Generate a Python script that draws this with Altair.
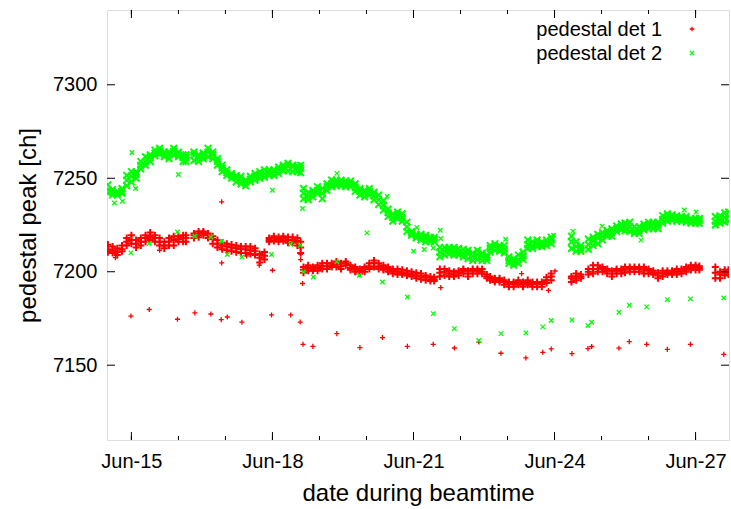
import altair as alt
import pandas as pd

# ---- sample times (day of June) for the dense bands ----
t_band = [
    14.50, 14.60, 14.70, 14.80, 14.90, 15.00, 15.10, 15.20, 15.30, 15.40,
    15.50, 15.60, 15.70, 15.80, 15.90, 16.00, 16.10, 16.16, 16.33, 16.43,
    16.53, 16.63, 16.73, 16.83, 16.93, 17.03, 17.13, 17.23, 17.33, 17.43,
    17.53, 17.63, 17.73, 17.83, 17.93, 18.03, 18.13, 18.23, 18.33, 18.43,
    18.53, 18.60, 18.66, 18.76, 18.86, 18.96, 19.06, 19.16, 19.26, 19.36,
    19.46, 19.56, 19.66, 19.76, 19.86, 19.96, 20.06, 20.16, 20.26, 20.36,
    20.46, 20.56, 20.66, 20.76, 20.86, 20.96, 21.06, 21.16, 21.26, 21.36,
    21.44, 21.56, 21.66, 21.76, 21.86, 21.96, 22.06, 22.16, 22.26, 22.36,
    22.46, 22.56, 22.63, 22.73, 22.83, 22.93, 23.03, 23.13, 23.23, 23.33,
    23.43, 23.53, 23.63, 23.73, 23.83, 23.93, 24.36, 24.46, 24.56, 24.72,
    24.82, 24.92, 25.02, 25.12, 25.22, 25.32, 25.42, 25.50, 25.60, 25.70,
    25.80, 25.90, 26.00, 26.10, 26.20, 26.30, 26.40, 26.50, 26.60, 26.70,
    26.80, 26.90, 27.00, 27.08, 27.42, 27.52, 27.62, 27.70,
]

# ---- pedestal det 2 (green) band: low / middle / high readings ----
green_lo = [
    7242, 7241, 7241, 7242, 7246, 7248, 7250, 7255, 7257, 7259,
    7262, 7263, 7261.5, 7260.5, 7262.5, 7261.5, 7259, 7259, 7259.5, 7259,
    7260.5, 7261.5, 7260.5, 7257, 7253.5, 7251.5, 7250, 7248, 7247, 7246,
    7248, 7249, 7250, 7250.5, 7251.5, 7251.5, 7252.5, 7254, 7254, 7253.5,
    7253.5, 7253, 7239, 7238.5, 7240, 7242, 7239, 7243.5, 7245.5, 7246,
    7246, 7245.5, 7245.5, 7243, 7241, 7240, 7241, 7238.5, 7236, 7233,
    7229.5, 7227, 7228.5, 7227, 7221.5, 7219.5, 7218, 7217, 7216, 7216,
    7216, 7208, 7209, 7209.5, 7209, 7209, 7208, 7207, 7206, 7206.5,
    7206, 7206, 7210.5, 7211.5, 7211, 7210, 7204.5, 7203.5, 7204.5, 7206.5,
    7212.5, 7212.5, 7213.5, 7213.5, 7214, 7215, 7212.5, 7211, 7211, 7212,
    7214, 7215, 7217, 7219, 7219, 7221.5, 7222.5, 7222, 7221.5, 7220.5,
    7220.5, 7222.5, 7223, 7223, 7223, 7226, 7227, 7227.5, 7227, 7227,
    7226.5, 7226, 7226, 7226, 7225, 7226, 7226.5, 7227,
]
green_mid = [
    7244, 7242.5, 7242, 7243, 7249, 7251, 7252, 7257, 7259, 7261,
    7263.5, 7264.5, 7263, 7262.5, 7264.5, 7263, 7261, 7261, 7262.5, 7261,
    7262.5, 7264, 7262.5, 7259, 7255.5, 7253, 7251.5, 7250, 7249, 7248,
    7249.5, 7251, 7252, 7252.5, 7253, 7253.5, 7254.5, 7256, 7256.5, 7256,
    7255.5, 7255.5, 7242, 7240.5, 7242, 7243.5, 7242, 7245.5, 7247, 7247.5,
    7247.5, 7247, 7247, 7245, 7243, 7242, 7243, 7240.5, 7238.5, 7235.5,
    7231.5, 7229, 7230, 7229, 7224, 7220.5, 7219, 7218.5, 7218, 7217.5,
    7217.5, 7210.5, 7211, 7211.5, 7211, 7210.5, 7210, 7209.5, 7208, 7209,
    7208, 7207.5, 7212.5, 7213.5, 7212.5, 7212, 7206, 7205.5, 7206.5, 7208.5,
    7214.5, 7214, 7215, 7214.5, 7215.5, 7217, 7216, 7213.5, 7212.5, 7214.5,
    7216.5, 7218, 7219, 7220.5, 7221, 7223, 7224, 7224, 7224, 7222,
    7222, 7224, 7225, 7225, 7225, 7228, 7229, 7229, 7228.5, 7228,
    7228, 7227.5, 7227, 7227.5, 7227, 7228, 7229, 7229.5,
]
green_hi = [
    7246.5, 7244, 7243, 7244.5, 7251.5, 7253.5, 7253.5, 7259, 7261.5, 7262.5,
    7265, 7266, 7264, 7264, 7266, 7264, 7262.5, 7262.5, 7264, 7262.5,
    7263.5, 7266, 7264, 7260.5, 7257, 7254.5, 7252.5, 7251.5, 7251, 7249,
    7251, 7252.5, 7253.5, 7254.5, 7254.5, 7254.5, 7256, 7257, 7258, 7257,
    7256.5, 7257, 7244.5, 7242.5, 7243.5, 7245.5, 7244.5, 7247, 7249, 7249,
    7249, 7248.5, 7248.5, 7247, 7244.5, 7243.5, 7244.5, 7242.5, 7241, 7238,
    7233.5, 7231, 7232, 7231, 7226.5, 7221.5, 7220, 7220, 7219.5, 7218.5,
    7218.5, 7213, 7213, 7213, 7213, 7212.5, 7212, 7211.5, 7210, 7211.5,
    7210, 7209, 7214, 7215, 7214, 7214, 7208, 7207, 7209, 7210.5,
    7217, 7216, 7217, 7216, 7217, 7218.5, 7219, 7216, 7214, 7217.5,
    7218.5, 7220, 7221, 7222, 7223, 7224.5, 7225.5, 7226, 7226.5, 7224,
    7224, 7225.5, 7226.5, 7226.5, 7226.5, 7230, 7231, 7230.5, 7230, 7229.5,
    7229.5, 7228.5, 7228.5, 7228.5, 7229.5, 7230, 7231.5, 7232,
]

# ---- pedestal det 1 (red) band: low / middle / high readings ----
red_lo = [
    7210.5, 7210, 7209, 7211, 7214, 7215, 7213, 7214, 7216, 7217,
    7216, 7214, 7212.5, 7214, 7214, 7216, 7216, 7216, 7218, 7218.5,
    7219.5, 7218, 7215, 7213, 7212, 7211.5, 7211, 7210.5, 7210, 7210,
    7209.5, 7209, 7205, 7206.5, 7216, 7216.5, 7216, 7216.5, 7215.5, 7215.5,
    7214, 7210, 7199.5, 7200.5, 7200.5, 7200.5, 7201.5, 7201.5, 7202.5, 7202.5,
    7201.5, 7203.5, 7201, 7200, 7199, 7200, 7201.5, 7202.5, 7201.5, 7201,
    7200, 7199, 7198.5, 7198.5, 7198, 7197.5, 7196.5, 7196, 7195.5, 7195,
    7195, 7197.5, 7198, 7197.5, 7197.5, 7198, 7199, 7197.5, 7199, 7199,
    7199, 7196.5, 7195.5, 7194.5, 7194.5, 7193, 7192, 7192, 7193, 7192,
    7193, 7192, 7192, 7192, 7194, 7195.5, 7194.5, 7195.5, 7196.5, 7198.5,
    7199, 7200, 7200, 7199, 7197.5, 7199, 7199, 7199.5, 7200, 7200,
    7200, 7199, 7199, 7198.5, 7196.5, 7197.5, 7198.5, 7198.5, 7198.5, 7199,
    7200, 7201, 7201, 7201, 7196.5, 7196.5, 7198, 7198.5,
]
red_mid = [
    7212, 7211.5, 7210.5, 7212, 7216, 7217, 7215, 7216, 7218, 7219,
    7218, 7216, 7214, 7216, 7217, 7217.5, 7218, 7218, 7219.5, 7220.5,
    7221, 7219.5, 7217.5, 7215, 7214, 7213.5, 7213, 7212.5, 7212, 7212,
    7211.5, 7211, 7207.5, 7208.5, 7217, 7218, 7217.5, 7218, 7217, 7217,
    7216.5, 7213, 7201, 7202, 7201.5, 7202, 7203, 7203, 7203.5, 7204,
    7203, 7204.5, 7202, 7201.5, 7200.5, 7201.5, 7203, 7204.5, 7203, 7202,
    7201.5, 7200.5, 7200, 7199.5, 7199, 7198.5, 7198, 7197.5, 7197, 7196,
    7196, 7199.5, 7200, 7199, 7198.5, 7199.5, 7200.5, 7199, 7200.5, 7200.5,
    7200, 7197.5, 7196.5, 7195.5, 7195.5, 7194.5, 7193.5, 7193.5, 7194, 7193.5,
    7194, 7193.5, 7193.5, 7193.5, 7195.5, 7197.5, 7196.5, 7197.5, 7197.5, 7200,
    7201.5, 7201.5, 7201.5, 7200.5, 7199, 7200.5, 7200.5, 7201, 7201.5, 7201.5,
    7201.5, 7201, 7200.5, 7199.5, 7198, 7199, 7199.5, 7199.5, 7200, 7200.5,
    7201.5, 7202, 7202.5, 7202, 7199.5, 7198.5, 7199.5, 7200,
]
red_hi = [
    7214.5, 7213.5, 7212.5, 7214, 7218, 7219.5, 7217, 7218, 7219.5, 7221,
    7219.5, 7218, 7216, 7218, 7219, 7219, 7219.5, 7219.5, 7220.5, 7221.5,
    7221.5, 7220.5, 7219, 7217, 7215.5, 7215, 7214.5, 7214, 7213.5, 7213.5,
    7213.5, 7212.5, 7209.5, 7210.5, 7218, 7219, 7218.5, 7219, 7218.5, 7218.5,
    7218, 7216, 7202.5, 7203.5, 7202.5, 7203.5, 7204.5, 7204.5, 7204.5, 7205.5,
    7204.5, 7205.5, 7203.5, 7202.5, 7201.5, 7202.5, 7204.5, 7206, 7204.5, 7203.5,
    7202.5, 7201.5, 7201.5, 7201, 7200.5, 7200, 7199.5, 7199, 7198, 7197.5,
    7197, 7201.5, 7201.5, 7200.5, 7200, 7200.5, 7201.5, 7200.5, 7201.5, 7201.5,
    7201.5, 7198.5, 7197.5, 7196.5, 7196.5, 7195.5, 7194.5, 7194.5, 7195.5, 7194.5,
    7195.5, 7194.5, 7194.5, 7194.5, 7197, 7199, 7197.5, 7199, 7198.5, 7201.5,
    7203.5, 7203.5, 7202.5, 7201.5, 7200.5, 7201.5, 7201.5, 7202.5, 7202.5, 7202.5,
    7202.5, 7202.5, 7201.5, 7200.5, 7199.5, 7200.5, 7200.5, 7200.5, 7201.5, 7201.5,
    7202.5, 7203.5, 7203.5, 7203, 7202.5, 7200, 7201, 7201,
]

# ---- isolated det 1 points ----
red_pts_t = [
    14.99, 15.38, 15.98, 16.35, 16.69, 16.91, 17.04, 17.35, 17.98, 18.39,
    18.59, 18.65, 18.86, 19.37, 19.86, 20.34, 20.87, 21.42, 21.87, 22.39,
    22.86, 23.39, 23.75, 23.93, 24.37, 24.71, 24.79, 25.37, 25.59, 25.96,
    26.40, 26.89, 27.60,
    16.92, 16.92, 18.00, 18.64, 18.60, 18.60, 21.58, 23.30, 24.01, 23.87,
    17.72, 17.45, 15.60, 14.66,
]
red_pts_v = [
    7176.3, 7179.8, 7174.6, 7178.0, 7177.4, 7174.4, 7175.8, 7173.0, 7176.9, 7176.9,
    7173.1, 7161.2, 7160.1, 7166.9, 7159.4, 7164.8, 7160.1, 7161.2, 7159.2, 7162.4,
    7156.4, 7153.9, 7156.9, 7158.7, 7156.2, 7158.9, 7160.0, 7159.1, 7162.6, 7161.2,
    7158.5, 7161.2, 7155.8,
    7237.4, 7204.7, 7200.8, 7193.7, 7209.5, 7206.5, 7191.5, 7199.0, 7200.4, 7190.0,
    7203.5, 7208.5, 7211.5, 7207.5,
]

# ---- isolated det 2 points ----
green_pts_t = [
    14.99, 15.38, 15.98, 16.35, 16.69, 16.92, 17.04, 17.35, 17.98, 18.39,
    18.59, 18.66, 18.87, 19.37, 19.85, 20.34, 20.87, 21.42, 21.87, 22.39,
    22.86, 23.39, 23.75, 23.93, 24.37, 24.71, 24.79, 25.37, 25.59, 25.96,
    26.40, 26.89, 27.60,
    15.01, 15.09, 16.00, 18.00, 18.64, 14.64, 14.81, 19.37, 20.01, 20.44,
    21.07, 21.00, 21.23, 21.42, 21.57, 21.58, 22.96, 23.98, 24.39, 25.01,
    25.84, 26.76, 27.01,
]
green_pts_v = [
    7210.1, 7215.1, 7221.3, 7219.0, 7218.6, 7216.3, 7209.2, 7207.9, 7209.2, 7214.7,
    7214.2, 7199.9, 7197.2, 7205.3, 7198.1, 7194.5, 7186.5, 7177.6, 7169.6, 7163.2,
    7166.9, 7167.3, 7170.5, 7173.9, 7174.2, 7171.2, 7173.0, 7178.3, 7182.1, 7181.2,
    7185.1, 7185.5, 7186.0,
    7263.8, 7244.5, 7252.0, 7243.6, 7233.8, 7236.8, 7237.7, 7252.6, 7220.8, 7240.4,
    7223.7, 7211.0, 7211.9, 7212.7, 7222.2, 7217.8, 7217.4, 7219.5, 7221.7, 7224.4,
    7216.9, 7233.0, 7232.0,
]

# ---- axis ticks ----
x_major = [15, 18, 21, 24, 27]
x_minor = [15, 16, 17, 18, 19, 20, 21, 22, 23, 24, 25, 26, 27]
y_major = [7150, 7200, 7250, 7300]
legend_labels = ["pedestal det 1", "pedestal det 2"]

# ---------------------------------------------------------------------
red_band, green_band = [], []
for i, t in enumerate(t_band):
    for v in (red_lo[i], red_mid[i], red_hi[i]):
        red_band.append({"day": t, "peak": v})
    for v in (green_lo[i], green_mid[i], green_hi[i]):
        green_band.append({"day": t, "peak": v})
red_band_df = pd.DataFrame(red_band)
green_band_df = pd.DataFrame(green_band)
red_pts_df = pd.DataFrame({"day": red_pts_t, "peak": red_pts_v})
green_pts_df = pd.DataFrame({"day": green_pts_t, "peak": green_pts_v})

FONT = "Liberation Sans"
W, H = 622, 430
PLUS = "M-1,0L1,0M0,-1L0,1"
CROSS = "M-1,-1L1,1M1,-1L-1,1"
RED = "#ff0000"
GREEN = "#00ff00"

xscale = alt.Scale(domain=[14.481, 27.711], nice=False, zero=False)
yscale = alt.Scale(domain=[7110, 7340], nice=False, zero=False)

x_axis = alt.Axis(values=x_major, labelExpr="'Jun-' + datum.value", ticks=False,
                  grid=False, domain=False, labelFontSize=20, labelFont=FONT,
                  labelColor="black", labelPadding=11, title="date during beamtime",
                  titleFontSize=24, titleFont=FONT, titleFontWeight="normal",
                  titleColor="black", titlePadding=10)
y_axis = alt.Axis(values=y_major, format="d", ticks=False, grid=False, domain=False,
                  labelFontSize=20, labelFont=FONT, labelColor="black",
                  labelPadding=10, title="pedestal peak [ch]", titleFontSize=24,
                  titleFont=FONT, titleFontWeight="normal", titleColor="black",
                  titlePadding=12)

xa = alt.X("day:Q", scale=xscale, axis=x_axis)
ya = alt.Y("peak:Q", scale=yscale, axis=y_axis)


def pts(df, shape, color, size, sw):
    return alt.Chart(df).mark_point(
        shape=shape, color=color, size=size, strokeWidth=sw, filled=False,
        opacity=1, clip=True
    ).encode(x=xa, y=ya)


red_layers = [pts(red_band_df, PLUS, RED, 50, 2.0), pts(red_pts_df, PLUS, RED, 26, 1.3)]
green_layers = [pts(green_band_df, CROSS, GREEN, 44, 2.0), pts(green_pts_df, CROSS, GREEN, 20, 1.3)]

xmaj_df = pd.DataFrame({"day": x_major})
xmin_df = pd.DataFrame({"day": x_minor})
ymaj_df = pd.DataFrame({"peak": y_major})

ticks = [
    alt.Chart(xmaj_df).mark_rule(color="black", strokeWidth=1).encode(x=xa, y=alt.value(H), y2=alt.value(H - 8)),
    alt.Chart(xmaj_df).mark_rule(color="black", strokeWidth=1).encode(x=xa, y=alt.value(0), y2=alt.value(8)),
    alt.Chart(xmin_df).mark_rule(color="black", strokeWidth=1).encode(x=xa, y=alt.value(H), y2=alt.value(H - 4)),
    alt.Chart(xmin_df).mark_rule(color="black", strokeWidth=1).encode(x=xa, y=alt.value(0), y2=alt.value(4)),
    alt.Chart(ymaj_df).mark_rule(color="black", strokeWidth=1).encode(y=ya, x=alt.value(0), x2=alt.value(8)),
    alt.Chart(ymaj_df).mark_rule(color="black", strokeWidth=1).encode(y=ya, x=alt.value(W), x2=alt.value(W - 8)),
]

leg1_df = pd.DataFrame({"label": [legend_labels[0]]})
leg2_df = pd.DataFrame({"label": [legend_labels[1]]})
legend = [
    alt.Chart(leg1_df).mark_text(align="right", baseline="middle", fontSize=20, font=FONT, color="black")
    .encode(text="label:N", x=alt.value(555), y=alt.value(20)),
    alt.Chart(leg2_df).mark_text(align="right", baseline="middle", fontSize=20, font=FONT, color="black")
    .encode(text="label:N", x=alt.value(555), y=alt.value(44)),
    alt.Chart(leg1_df).mark_point(shape=PLUS, color=RED, size=22, strokeWidth=1.3, filled=False, opacity=1)
    .encode(x=alt.value(585), y=alt.value(19)),
    alt.Chart(leg2_df).mark_point(shape=CROSS, color=GREEN, size=18, strokeWidth=1.3, filled=False, opacity=1)
    .encode(x=alt.value(585), y=alt.value(43)),
]

chart = alt.layer(*red_layers, *green_layers, *ticks, *legend).properties(
    width=W, height=H,
    padding={"left": 107, "top": 10, "right": 2, "bottom": 69},
    autosize=alt.AutoSizeParams(type="none"),
).configure_view(stroke="black", strokeWidth=1.5).configure(background="white")

chart.save("out.html", embed_options={"renderer": "svg", "actions": False})
